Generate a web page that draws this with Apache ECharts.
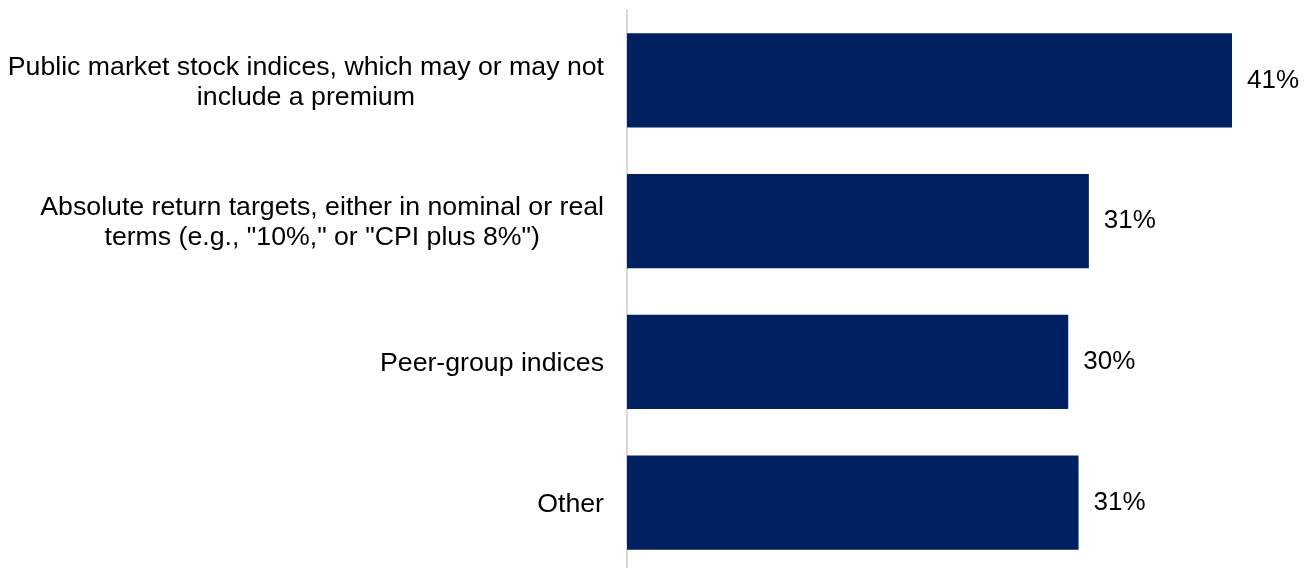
<!DOCTYPE html>
<html>
<head>
<meta charset="utf-8">
<style>
  html, body { margin: 0; padding: 0; background: #ffffff; }
  #chart { width: 1312px; height: 568px; }
</style>
<script src="https://cdn.jsdelivr.net/npm/echarts@6/dist/echarts.min.js"></script>
</head>
<body>
<div id="chart"></div>
<script>
// Benchmark types used, share of respondents (%)
const categories = [
  'Public market stock indices, which may or may not\ninclude a premium',
  'Absolute return targets, either in nominal or real\nterms (e.g., "10%," or "CPI plus 8%")',
  'Peer-group indices',
  'Other'
];
const shares = [41, 31.3, 29.9, 30.6];

const FONT = '"Liberation Sans", Arial, sans-serif';

const chart = echarts.init(document.getElementById('chart'), null, { renderer: 'canvas' });

chart.setOption({
  animation: false,
  backgroundColor: '#ffffff',
  grid: {
    left: 627, right: 80, top: 10, height: 563,
    containLabel: false,
    outerBoundsMode: 'none'
  },
  xAxis: {
    type: 'value',
    min: 0,
    max: 41,
    show: false,
    splitLine: { show: false }
  },
  yAxis: {
    type: 'category',
    data: categories,
    inverse: true,
    axisTick: { show: false },
    axisLine: { show: true, lineStyle: { color: '#d9d9d9', width: 2 } },
    axisLabel: {
      margin: 23,
      color: '#000000',
      fontFamily: FONT,
      fontSize: 26.7,
      lineHeight: 30,
      // each line centred within the label block
      formatter: v => v.split('\n').map(line => '{c|' + line + '}').join('\n'),
      rich: {
        c: { align: 'center', fontFamily: FONT, fontSize: 26.7, lineHeight: 30, color: '#000000', padding: [4, 0, 0, 0] }
      }
    }
  },
  series: [{
    type: 'bar',
    data: shares,
    barCategoryGap: '33%',
    itemStyle: { color: '#002060' },
    label: {
      show: true,
      position: 'right',
      distance: 15,
      color: '#000000',
      fontFamily: FONT,
      fontSize: 26,
      padding: [4, 0, 0, 0],
      formatter: p => Math.round(p.value) + '%'
    }
  }]
});
</script>
</body>
</html>
